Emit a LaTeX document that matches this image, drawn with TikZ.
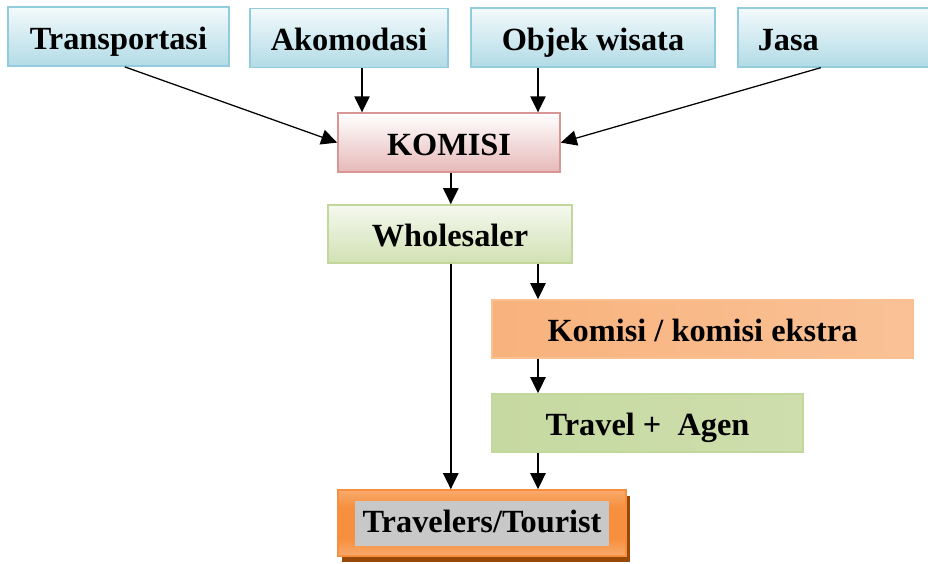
\documentclass[tikz,border=0pt]{standalone}
\usepackage{fontspec}
\setmainfont{Liberation Serif}
\usetikzlibrary{arrows.meta,shadows}

\definecolor{biruTepi}{HTML}{93CDDD}
\definecolor{biruAtas}{HTML}{F3FAFC}
\definecolor{biruBawah}{HTML}{B2DBE6}
\definecolor{merahTepi}{HTML}{D99694}
\definecolor{merahBawah}{HTML}{E6B9B8}
\definecolor{hijauTepi}{HTML}{C3D69B}
\definecolor{hijauTua}{HTML}{C6D9A0}
\definecolor{hijauMuda}{HTML}{EEF4E4}
\definecolor{oranyeTepi}{HTML}{FAC090}
\definecolor{oranyeTua}{HTML}{F8B27C}
\definecolor{oranyeMuda}{HTML}{FDE6D4}
\definecolor{oranyeKuat}{HTML}{F6903F}
\definecolor{oranyeLembut}{HTML}{FBC49A}
\definecolor{coklat}{HTML}{984807}
\definecolor{abu}{HTML}{C8C8C8}
\pgfdeclareverticalshading{turisShade}{100bp}{color(0bp)=(oranyeLembut); color(12bp)=(oranyeLembut);
  color(38bp)=(oranyeKuat); color(62bp)=(oranyeKuat); color(88bp)=(oranyeLembut); color(100bp)=(oranyeLembut)}

\begin{document}
\begin{tikzpicture}[>={Triangle[length=4mm,width=3.8mm]}, line width=1.2pt,
  kotak/.style={minimum height=1.475cm, inner sep=0pt, line width=1.1pt,
    text height=18pt, text depth=0pt, font=\fontsize{23}{27}\selectfont\bfseries},
  sumber/.style={kotak, draw=biruTepi, top color=biruAtas, bottom color=biruBawah},
  komisibox/.style={kotak, draw=merahTepi, top color=white, bottom color=merahBawah},
  hijaubox/.style={kotak, draw=hijauTepi, minimum height=1.45cm},
  oranyebox/.style={kotak, draw=oranyeTepi, minimum height=1.45cm}]
  \useasboundingbox (0,0) rectangle (23.2,14.075);
  % kolom panah
  \coordinate (colT) at (3.12,0);
  \coordinate (colA) at (9.05,0);
  \coordinate (colB) at (13.45,0);
  \coordinate (colC) at (11.27,0);
  \coordinate (colJ) at (20.52,0);
  % sumber komisi
  \node[sumber, minimum width=5.525cm] (trans) at (2.96,13.16) {Transportasi};
  \node[sumber, minimum width=4.95cm] (akom) at (8.725,13.125) {Akomodasi};
  \node[sumber, minimum width=6.1cm] (objek) at (14.825,13.14) {Objek wisata};
  \node[sumber, anchor=west, text width=5cm, inner xsep=0.5cm, align=left] (jasa) at (18.425,13.14) {Jasa};
  \node[komisibox, minimum width=5.55cm] (komisi) at (11.225,10.51) {KOMISI};
  % alur ke wisatawan
  \node[hijaubox, minimum width=6.1cm, top color=hijauMuda!60, bottom color=hijauTua!80] (whole) at (11.25,8.225) {Wholesaler};
  \node[oranyebox, minimum width=10.525cm, left color=oranyeTua, middle color=oranyeMuda, right color=oranyeTua!70!oranyeMuda] (ekstra) at (17.5625,5.85) {Komisi / komisi ekstra};
  \node[hijaubox, minimum width=7.775cm, left color=hijauTua, middle color=hijauMuda, right color=hijauTua!80!hijauMuda] (agen) at (16.1875,3.5) {Travel +\ \ Agen};
  \node[kotak, draw=oranyeKuat, minimum width=7.2cm, minimum height=1.65cm, shading=turisShade,
    drop shadow={shadow xshift=3pt, shadow yshift=-4pt, fill=coklat, opacity=1}] (tourist) at (12.05,1.0) {};
  \node[kotak, fill=abu, minimum width=6.35cm, minimum height=1.125cm, line width=0pt,
    text height=13pt] (tourlabel) at (tourist) {Travelers/Tourist};
  % panah
  \draw[->, line width=0.9pt] (trans.south -| colT) -- (komisi.west);
  \draw[->] (akom.south -| colA) -- (komisi.north -| colA);
  \draw[->] (objek.south -| colB) -- (komisi.north -| colB);
  \draw[->, line width=0.9pt] (jasa.south -| colJ) -- (komisi.east);
  \draw[->] (komisi.south -| colC) -- (whole.north -| colC);
  \draw[->] (whole.south -| colB) -- (ekstra.north -| colB);
  \draw[->] (ekstra.south -| colB) -- (agen.north -| colB);
  \draw[->] (agen.south -| colB) -- (tourist.north -| colB);
  \draw[->] (whole.south -| colC) -- (tourist.north -| colC);
\end{tikzpicture}
\end{document}
